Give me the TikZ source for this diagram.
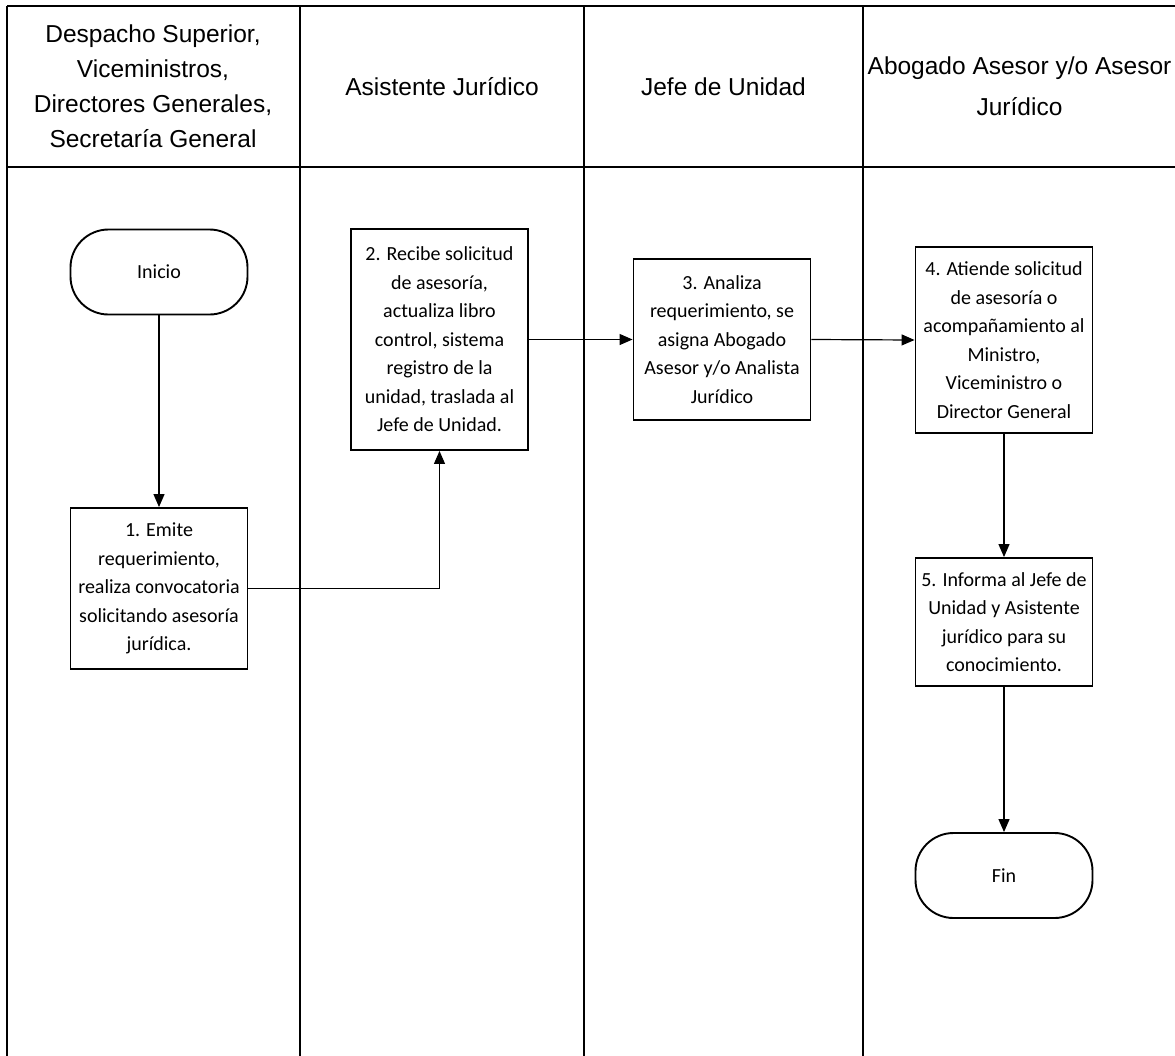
\documentclass[tikz,border=0pt]{standalone}
\usepackage{fontspec}
\setmainfont{Liberation Sans}
\newfontfamily\boxfont{Carlito}
\usetikzlibrary{arrows.meta}
\begin{document}
\begin{tikzpicture}[x=1pt,y=-1pt,
  lane/.style={line width=1.7pt},
  headtext/.style={font=\fontsize{24.5}{35}\selectfont, align=center, inner sep=0pt},
  stepbox/.style={draw, line width=1.9pt, minimum width=177pt, align=center,
    inner sep=0pt, font=\boxfont\fontsize{20}{28.5}\selectfont},
  term/.style={draw, line width=1.9pt, rounded corners=38pt, minimum width=177pt,
    minimum height=85pt, inner sep=0pt, font=\boxfont\fontsize{20}{24}\selectfont},
  flow/.style={line width=1.2pt, -{Triangle[length=13pt,width=11pt]}}
]
\useasboundingbox (0,0) rectangle (1175,1055);

% swimlane table
\draw[lane] (7,6) -- (1180,6);
\draw[lane] (7,167) -- (1180,167);
\draw[lane] (7,6) -- (7,1060);
\draw[lane] (300,6) -- (300,1060);
\draw[lane] (584,6) -- (584,1060);
\draw[lane] (863,6) -- (863,1060);

% lane titles
\node[headtext] (h1) at (153,86) {Despacho Superior,\\Viceministros,\\Directores Generales,\\Secretaría General};
\node[headtext] (h2) at (442,87) {Asistente Jurídico};
\node[headtext] (h3) at (723.5,87) {Jefe de Unidad};
\node[headtext, font=\fontsize{24.5}{41}\selectfont] (h4) at (1019.5,86) {Abogado Asesor y/o Asesor\\Jurídico};

% process steps
\node[term] (inicio) at (159,272) {Inicio};
\node[stepbox, minimum height=161pt] (b1) at (159,588.5)
  {1. Emite\\requerimiento,\\realiza convocatoria\\solicitando asesoría\\jurídica.};
\node[stepbox, minimum height=221pt] (b2) at (439.5,339.5)
  {2. Recibe solicitud\\de asesoría,\\actualiza libro\\control, sistema\\registro de la\\unidad, traslada al\\Jefe de Unidad.};
\node[stepbox, minimum height=161pt] (b3) at (722,339.5)
  {3. Analiza\\requerimiento, se\\asigna Abogado\\Asesor y/o Analista\\Jurídico};
\node[stepbox, minimum height=186pt] (b4) at (1004,340)
  {4. Atiende solicitud\\de asesoría o\\acompañamiento al\\Ministro,\\Viceministro o\\Director General};
\node[stepbox, minimum height=128pt] (b5) at (1004,622)
  {5. Informa al Jefe de\\Unidad y Asistente\\jurídico para su\\conocimiento.};
\node[term] (fin) at (1004,875.5) {Fin};

% connectors
\draw[flow] (inicio) -- (b1);
\draw[flow] (b1.east) -| (b2.south);
\draw[flow] (b2.east) -- (b3.west);
\draw[flow] (b3.east) -- (b4.west);
\draw[flow] (b4) -- (b5);
\draw[flow] (b5) -- (fin);
\end{tikzpicture}
\end{document}
